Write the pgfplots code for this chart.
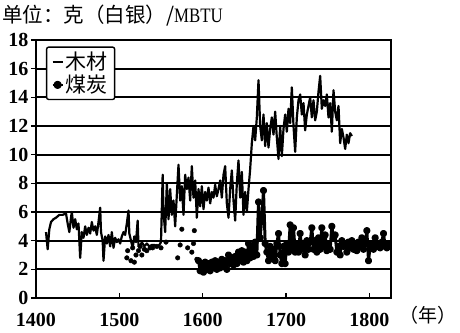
\documentclass[border=0pt]{standalone}
\usepackage{fontspec}
\usepackage{graphicx}
\setmainfont{Liberation Serif}
\newfontfamily\cjk{Noto Sans CJK SC}
\usepackage{pgfplots}
\pgfplotsset{compat=1.18}
\begin{document}
\begin{tikzpicture}
\path[use as bounding box] (-36pt,-34pt) rectangle (424pt,298pt);
\begin{axis}[
  at={(0pt,0pt)}, anchor=south west,
  scale only axis, width=355pt, height=258pt,
  xmin=1400, xmax=1826, ymin=0, ymax=18,
  xtick={1400,1500,1600,1700,1800},
  ytick={0,2,4,6,8,10,12,14,16,18},
  /pgf/number format/assume math mode=true,
  xticklabel style={/pgf/number format/1000 sep={}},
  tick label style={font=\fontsize{20}{24}\selectfont\bfseries},
  major tick length=5pt,
  tick style={line width=1.3pt, black},
  xtick align=inside, ytick align=outside,
  xtick pos=bottom, ytick pos=left,
  axis line style={line width=1.9pt},
  ymajorgrids, grid style={line width=1.7pt, black},
  yticklabel style={xshift=1pt},
  xticklabel style={yshift=-12pt},
  legend style={at={(rel axis cs:0.028,0.975)}, anchor=north west,
    draw=black, line width=1.4pt, rounded corners=2pt,
    font=\cjk\fontsize{21}{23}\selectfont, inner xsep=5pt, inner ysep=3pt,
    legend cell align=left},
]
\addplot[black, line width=2.2pt, line join=round,
  legend image code/.code={\draw[line width=2pt] (0pt,0pt) -- (10pt,0pt);}]
coordinates {
(1412,4.6)(1414,3.4)(1416,4.8)(1418,5.3)(1421,5.5)(1424,5.6)(1428,5.8)(1432,5.8)
(1436,5.9)(1438,5.2)(1440,4.6)(1442,5.6)(1443,6.0)(1445,4.9)(1447,5.5)(1449,4.8)
(1451,5.2)(1453,2.8)(1455,4.6)(1457,4.2)(1459,5.0)(1461,4.4)(1463,4.9)(1465,4.5)
(1467,5.3)(1469,4.7)(1471,5.0)(1473,4.4)(1475,5.3)(1477,6.3)(1478,4.6)(1480,4.0)
(1481,2.6)(1483,4.3)(1485,3.8)(1487,4.4)(1489,3.6)(1491,4.6)(1493,3.5)(1495,4.2)
(1497,3.9)(1499,4.1)(1501,3.8)(1503,4.3)(1505,4.6)(1507,4.4)(1509,5.2)(1511,6.1)
(1512,4.5)(1514,4.0)(1516,3.5)(1518,4.3)(1520,3.9)(1522,5.4)(1523,3.6)(1525,3.6)
(1527,3.9)(1530,3.6)(1533,3.8)(1536,3.6)(1539,3.7)(1542,3.7)(1545,3.6)(1548,3.7)
(1550,3.9)(1552,8.6)(1553,6.0)(1555,4.6)(1557,8.0)(1559,5.5)(1561,7.6)(1563,5.8)
(1565,6.8)(1567,5.0)(1569,7.2)(1571,9.3)(1573,6.8)(1575,7.8)(1577,5.8)(1579,8.6)
(1581,7.6)(1583,8.4)(1585,6.8)(1587,9.2)(1589,7.0)(1591,8.2)(1593,5.6)(1595,7.6)
(1597,6.4)(1599,7.8)(1601,6.2)(1603,7.4)(1605,6.8)(1607,7.7)(1609,6.6)(1611,7.4)
(1613,7.0)(1615,7.9)(1617,7.1)(1619,7.6)(1621,8.2)(1623,7.0)(1625,8.6)(1627,9.2)
(1629,6.6)(1631,5.6)(1633,7.6)(1635,8.9)(1637,6.8)(1639,5.4)(1641,8.0)(1643,9.6)
(1645,7.0)(1647,8.8)(1649,5.8)(1651,7.4)(1653,6.0)(1655,7.6)(1657,9.0)(1659,10.8)
(1661,12.0)(1663,11.0)(1665,12.6)(1667,15.2)(1669,12.0)(1671,11.0)(1673,12.8)(1675,10.6)
(1677,12.2)(1679,10.5)(1681,11.8)(1683,12.6)(1685,11.4)(1687,13.0)(1689,11.2)(1691,9.7)
(1693,12.0)(1695,9.9)(1697,11.8)(1699,12.8)(1701,11.6)(1703,13.2)(1705,12.2)(1707,14.7)
(1709,12.0)(1711,10.2)(1713,12.6)(1715,13.8)(1717,14.2)(1719,12.8)(1721,13.6)(1723,11.7)
(1725,12.8)(1727,13.4)(1729,14.0)(1731,12.6)(1733,13.8)(1735,12.4)(1737,13.0)(1739,14.4)
(1741,15.5)(1743,13.2)(1745,13.8)(1747,13.4)(1749,14.2)(1751,12.6)(1753,13.6)(1755,11.6)
(1757,14.5)(1759,13.0)(1761,12.4)(1763,13.4)(1765,10.8)(1767,11.8)(1769,11.2)(1771,10.4)
(1773,11.4)(1775,10.8)(1777,11.5)(1779,11.3)
};
\addlegendentry{木材}
\addplot[black, line width=3pt, line join=round, mark=*, mark size=2.1pt,
  legend image code/.code={\draw[line width=2pt] (0pt,0pt) -- (10pt,0pt); \fill (5pt,0pt) circle (2.6pt);}]
coordinates {
(1595,2.6)(1597,1.9)(1599,2.4)(1601,1.8)(1603,2.5)(1605,2.0)(1607,2.4)(1609,1.9)
(1611,2.5)(1613,2.1)(1615,2.6)(1617,2.0)(1619,2.5)(1621,2.1)(1623,2.7)(1625,2.2)
(1627,2.6)(1629,2.0)(1631,3.0)(1633,2.4)(1635,2.8)(1637,2.3)(1639,2.9)(1641,2.4)
(1643,3.2)(1645,2.6)(1647,3.3)(1649,2.5)(1651,3.2)(1653,2.6)(1655,3.8)(1657,2.8)
(1659,3.6)(1661,2.9)(1663,3.9)(1665,3.0)(1667,6.7)(1669,4.2)(1671,5.6)(1673,7.5)
(1675,3.8)(1677,3.2)(1679,2.6)(1681,3.6)(1683,2.8)(1685,3.4)(1687,2.6)(1689,3.8)
(1691,4.5)(1693,3.0)(1695,2.4)(1697,3.6)(1699,2.4)(1701,3.8)(1703,3.2)(1705,5.1)
(1707,3.4)(1709,4.9)(1711,3.2)(1713,3.8)(1715,3.2)(1717,4.5)(1719,3.4)(1721,3.8)
(1723,3.0)(1725,4.0)(1727,3.4)(1729,3.9)(1731,4.9)(1733,3.4)(1735,4.0)(1737,3.2)
(1739,4.2)(1741,3.4)(1743,4.9)(1745,3.6)(1747,4.4)(1749,3.3)(1751,3.8)(1753,3.4)
(1755,5.0)(1757,4.2)(1759,4.4)(1761,3.2)(1763,3.6)(1765,3.0)(1767,4.0)(1769,3.6)
(1771,3.8)(1773,3.2)(1775,3.9)(1777,3.5)(1779,4.0)(1781,3.4)(1783,3.8)(1785,3.3)
(1787,3.9)(1789,3.6)(1791,4.2)(1793,3.4)(1795,3.8)(1797,4.7)(1799,2.6)(1801,3.6)
(1803,3.8)(1805,3.4)(1807,4.2)(1809,3.6)(1811,3.8)(1813,3.5)(1815,3.9)(1817,4.5)
(1819,3.6)(1821,3.5)(1823,3.8)
};
\addlegendentry{煤炭}
\addplot[black, only marks, mark=*, mark size=2.3pt, forget plot]
coordinates {
(1509,2.8)(1510,3.3)(1514,2.6)(1516,3.5)(1518,2.5)(1520,3.0)(1523,3.3)(1525,3.6)
(1527,3.0)(1530,3.4)(1533,3.3)(1537,3.5)(1540,3.5)(1545,3.6)(1550,3.5)(1556,3.9)
(1570,2.8)(1573,3.7)(1575,4.8)(1582,3.5)(1587,3.2)(1589,3.8)(1590,4.7)(1593,2.7)
};
\end{axis}
\node[anchor=west, inner sep=0pt] at (-34pt,282pt) {\cjk\fontsize{20.5}{24}\selectfont 单位：克（白银）/\rmfamily\scalebox{0.82}[1]{MBTU}};
\node[inner sep=0pt] at (392pt,-17pt) {\cjk\fontsize{19}{22}\selectfont （年）};
\end{tikzpicture}
\end{document}
